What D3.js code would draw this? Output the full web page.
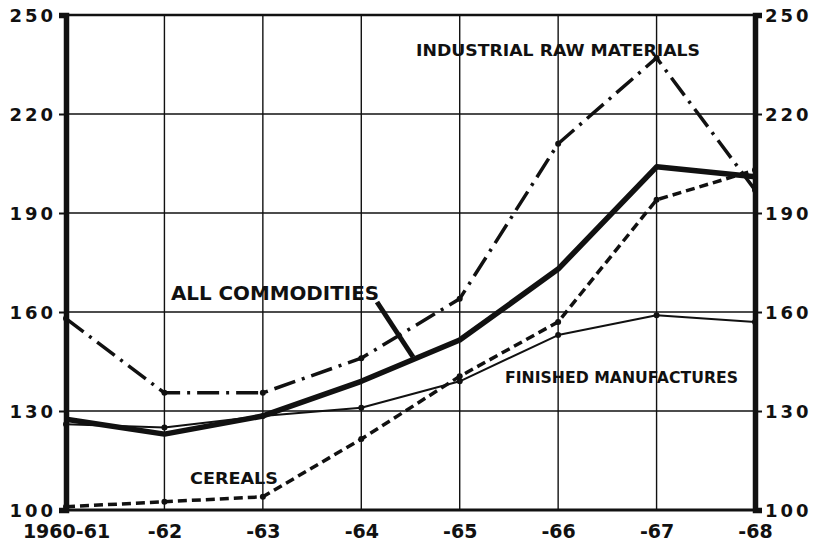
<!DOCTYPE html>
<html>
<head>
<meta charset="utf-8">
<script src="https://cdn.jsdelivr.net/npm/d3@7"></script>
<style>
  body { margin: 0; background: #fff; }
  text { font-family: "DejaVu Sans", sans-serif; font-weight: bold; fill: #111; }
</style>
</head>
<body>
<div id="chart"></div>
<script>
// index values
var years = ["1960-61", "-62", "-63", "-64", "-65", "-66", "-67", "-68"];
var allCommodities = [127.5, 123, 128.5, 139, 151.5, 173, 204, 201];
var industrialRaw = [158, 135.5, 135.5, 146, 164, 211, 237, 197];
var finishedManufactures = [126, 125, 128.5, 131, 139, 153, 159, 157];
var cereals = [101, 102.5, 104, 121.5, 140.5, 157, 194, 203];
var yTicks = [100, 130, 160, 190, 220, 250];

var W = 820, H = 549;
// note: "top" is taken by window.top, so use a margin object
var m = {left: 66, right: 755, top: 15, bottom: 510};

var svg = d3.select("#chart").append("svg")
    .attr("width", W)
    .attr("height", H);

var x = d3.scalePoint()
    .domain(years)
    .range([m.left, m.right]);

var y = d3.scaleLinear()
    .domain([100, 250])
    .range([m.bottom, m.top]);

// grid
var grid = svg.append("g").attr("class", "grid");
grid.selectAll(".vgrid")
    .data(years.slice(1, -1))
    .enter().append("line")
    .attr("x1", function(d) { return x(d); })
    .attr("x2", function(d) { return x(d); })
    .attr("y1", m.top)
    .attr("y2", m.bottom)
    .style("stroke", "#111")
    .style("stroke-width", 1.4);

grid.selectAll(".hgrid")
    .data(yTicks.slice(1, -1))
    .enter().append("line")
    .attr("x1", m.left)
    .attr("x2", m.right)
    .attr("y1", function(d) { return y(d); })
    .attr("y2", function(d) { return y(d); })
    .style("stroke", "#111")
    .style("stroke-width", 1.4);

// frame
svg.append("line").attr("x1", m.left).attr("x2", m.right).attr("y1", m.top).attr("y2", m.top)
    .style("stroke", "#111").style("stroke-width", 2.5);
svg.append("line").attr("x1", m.left).attr("x2", m.right).attr("y1", m.bottom).attr("y2", m.bottom)
    .style("stroke", "#111").style("stroke-width", 3);

// y axes, left and right
var yAxisL = d3.axisLeft(y).tickValues(yTicks).tickSize(7).tickPadding(3);
var yAxisR = d3.axisRight(y).tickValues(yTicks).tickSize(7).tickPadding(3);

var gL = svg.append("g").attr("transform", "translate(" + m.left + ",0)").call(yAxisL);
var gR = svg.append("g").attr("transform", "translate(" + m.right + ",0)").call(yAxisR);

[gL, gR].forEach(function(g) {
    g.select(".domain").style("stroke", "#111").style("stroke-width", 5.5);
    g.selectAll(".tick line").style("stroke", "#111").style("stroke-width", 2);
    g.selectAll(".tick text")
        .style("font-size", "18px")
        .style("letter-spacing", "3px")
        .attr("dy", "0.36em")
        .style("fill", "#111");
});

// x axis labels
var xAxis = d3.axisBottom(x).tickSize(0).tickPadding(15);
var gX = svg.append("g").attr("transform", "translate(0," + m.bottom + ")").call(xAxis);
gX.select(".domain").remove();
gX.selectAll(".tick text")
    .style("font-size", "19px")
    .style("fill", "#111");

// lines
var line = d3.line()
    .x(function(d, i) { return x(years[i]); })
    .y(function(d) { return y(d); });

var series = [
    {name: "industrial", values: industrialRaw, width: 3.5, dash: "22,7,3,7", dots: true},
    {name: "cereals", values: cereals, width: 3.5, dash: "9,5", dots: true},
    {name: "finished", values: finishedManufactures, width: 2, dash: null, dots: true},
    {name: "all", values: allCommodities, width: 5.5, dash: null, dots: false}
];

series.forEach(function(s) {
    svg.append("path")
        .datum(s.values)
        .attr("d", line)
        .style("fill", "none")
        .style("stroke", "#111")
        .style("stroke-width", s.width)
        .style("stroke-linejoin", "round")
        .style("stroke-dasharray", s.dash);
    if (s.dots) {
        svg.selectAll(".dot-" + s.name)
            .data(s.values)
            .enter().append("circle")
            .attr("cx", function(d, i) { return x(years[i]); })
            .attr("cy", function(d) { return y(d); })
            .attr("r", 3)
            .style("fill", "#111");
    }
});

// series labels
var labels = [
    {text: "INDUSTRIAL RAW MATERIALS", x: 416, y: 56, size: 15, len: 284},
    {text: "ALL COMMODITIES", x: 171, y: 300, size: 19, len: 208},
    {text: "FINISHED MANUFACTURES", x: 505, y: 383, size: 15, len: 233},
    {text: "CEREALS", x: 190, y: 484, size: 16, len: 88}
];

svg.selectAll(".lbl")
    .data(labels)
    .enter().append("text")
    .attr("x", function(d) { return d.x; })
    .attr("y", function(d) { return d.y; })
    .attr("textLength", function(d) { return d.len; })
    .attr("lengthAdjust", "spacingAndGlyphs")
    .style("font-size", function(d) { return d.size + "px"; })
    .text(function(d) { return d.text; });

// pointer from ALL COMMODITIES to its line
svg.append("line")
    .attr("x1", 377).attr("y1", 302)
    .attr("x2", 413).attr("y2", 357)
    .style("stroke", "#111")
    .style("stroke-width", 5);
</script>
</body>
</html>
